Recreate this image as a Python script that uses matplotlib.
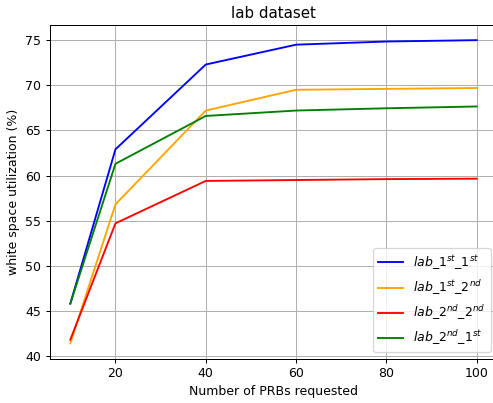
import numpy as np
import matplotlib
matplotlib.use("Agg")
import matplotlib.pyplot as plt

prbs = [10, 20, 40, 60, 80, 100]

lab_1st_1st = [45.8, 62.9, 72.3, 74.5, 74.85, 75.0]
lab_1st_2nd = [41.4, 56.8, 67.2, 69.5, 69.6, 69.7]
lab_2nd_2nd = [41.8, 54.7, 59.4, 59.5, 59.6, 59.65]
lab_2nd_1st = [45.8, 61.3, 66.6, 67.2, 67.45, 67.65]

DPI = 90
fig = plt.figure(figsize=(493 / DPI, 403 / DPI), dpi=DPI)
# axes box runs a few pixels past the right edge, as in the reference
ax = fig.add_axes([50 / 493, 1 - 358.5 / 403, 447 / 493, 333.5 / 403])

ax.plot(prbs, lab_1st_1st, color="blue", label=r"$lab\_1^{st}\_1^{st}$")
ax.plot(prbs, lab_1st_2nd, color="orange", label=r"$lab\_1^{st}\_2^{nd}$")
ax.plot(prbs, lab_2nd_2nd, color="red", label=r"$lab\_2^{nd}\_2^{nd}$")
ax.plot(prbs, lab_2nd_1st, color="green", label=r"$lab\_2^{nd}\_1^{st}$")

ax.set_yticks(np.arange(40, 80, 5))
ax.set_xticks([20, 40, 60, 80, 100])
ax.set_xlabel("Number of PRBs requested")
ax.set_ylabel("white space utilization (%)")
ax.set_title("lab dataset")
ax.grid(True)
ax.legend(loc="lower right")

fig.savefig("out.png", dpi=DPI)
